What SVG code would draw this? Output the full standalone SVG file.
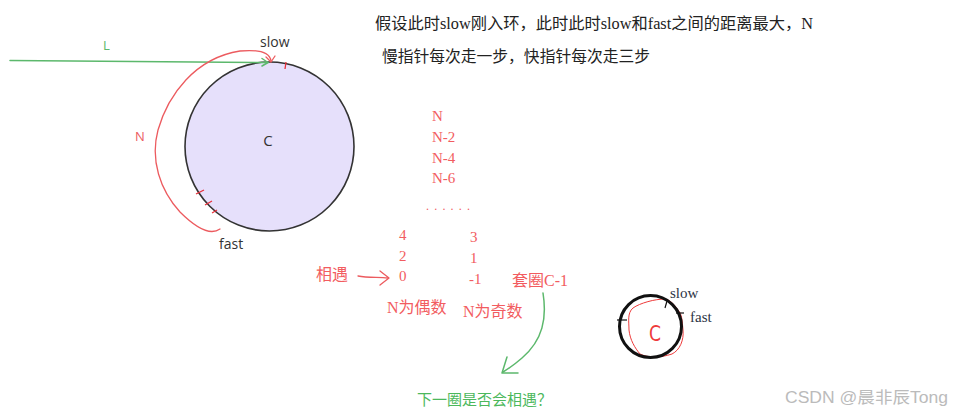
<svg xmlns="http://www.w3.org/2000/svg" width="955" height="412" viewBox="0 0 955 412">
<style>
.red{fill:#f25c60;font-family:"Liberation Serif","Noto Sans CJK SC",serif;font-size:15px}
.redcjk{fill:#f25c60;font-family:"Liberation Serif","Noto Sans CJK SC",serif;font-size:16px}
.dark{fill:#333;font-family:"Open Sans","Noto Sans",sans-serif;font-size:14px}
.top{fill:#222;font-family:"Liberation Serif","Noto Sans CJK SC",serif;font-size:16px}
.gline{fill:none;stroke:#5cb86c;stroke-width:1.5;stroke-linecap:round;stroke-linejoin:round}
.rline{fill:none;stroke:#ec5b5f;stroke-width:1.3;stroke-linecap:round;stroke-linejoin:round}
.tick{stroke:#e8303a;stroke-width:1.3}
</style>
<rect width="955" height="412" fill="#fff"/>
<g id="circle-big">
<circle cx="269.5" cy="146.5" r="84.5" fill="#e6e0fb" stroke="#333" stroke-width="1.6"/>
<text x="268" y="146" class="dark" text-anchor="middle" style="font-size:15px">C</text>
<line class="tick" x1="286" y1="62" x2="285" y2="69"/>
<line class="tick" x1="196" y1="194" x2="204" y2="190"/>
<line class="tick" x1="205" y1="205" x2="212" y2="201"/>
<line class="tick" x1="212" y1="213" x2="217" y2="210"/>
</g>
<g id="labels-big">
<text x="103" y="50" fill="#5cb86c" font-family="Open Sans,sans-serif" font-size="13">L</text>
<text x="260" y="47" class="dark">slow</text>
<text x="219" y="249" class="dark">fast</text>
<text x="135" y="141" fill="#ec5b5f" font-family="Open Sans,sans-serif" font-size="13">N</text>
</g>
<g id="connectors">
<path class="gline" d="M10 60.5 L268 62.5"/>
<path class="gline" d="M262 58.5 L268 62.5 L262 66"/>
<path class="rline" d="M220 229 C210 236 196 228 180 212 C160 190 150 160 158 130 C168 95 195 58 240 51 C262 49 270 54 271 61"/>
<path class="rline" d="M266 57 L271 62 L275 56"/>
<path class="rline" d="M358 276 C368 278 378 277 388 278"/>
<path class="rline" d="M380 271 L389 278 L380 285"/>
<path class="gline" d="M543 293 C547 318 543 340 522 358 C514 365 508 369 503 372"/>
<path class="gline" d="M507 357 L502 373 L518 373"/>
</g>
<g id="title">
<text x="375" y="29" class="top" textLength="438" lengthAdjust="spacingAndGlyphs">假设此时slow刚入环，此时此时slow和fast之间的距离最大，N</text>
<text x="382" y="62" class="top" textLength="268" lengthAdjust="spacingAndGlyphs">慢指针每次走一步，快指针每次走三步</text>
</g>
<g id="sequence">
<text x="432" y="121" class="red">N</text>
<text x="432" y="142" class="red">N-2</text>
<text x="432" y="163" class="red">N-4</text>
<text x="432" y="183" class="red">N-6</text>
<text x="426" y="210" class="red" style="font-size:12px" textLength="44" lengthAdjust="spacing">......</text>
<text x="399" y="240" class="red">4</text>
<text x="399" y="261" class="red">2</text>
<text x="399" y="281" class="red">0</text>
<text x="470" y="242" class="red">3</text>
<text x="470" y="263" class="red">1</text>
<text x="469" y="284" class="red">-1</text>
<text x="316" y="280" class="redcjk">相遇</text>
<text x="387" y="313" class="redcjk">N为偶数</text>
<text x="463" y="317" class="redcjk">N为奇数</text>
<text x="512" y="286" class="redcjk">套圈C-1</text>
<text x="417" y="405" fill="#4cb85c" font-family="Liberation Serif,Noto Sans CJK SC,serif" font-size="15">下一圈是否会相遇？</text>
</g>
<g id="circle-small">
<path fill="none" stroke="#ee3a3a" stroke-width="1" d="M665 299 C655 299 640 303 633 308 C627 313 629 322 629 330 C630 340 635 348 640 354 C648 358 660 358 672 354 C680 350 684 340 683 330 C682 320 682 314 678 310 C674 304 670 300 665 299 Z"/>
<circle cx="650.5" cy="326.5" r="31" fill="none" stroke="#111" stroke-width="3"/>
<line x1="617" y1="320" x2="627" y2="320" stroke="#111" stroke-width="1.2"/>
<line x1="667" y1="301" x2="665" y2="308" stroke="#111" stroke-width="1.2"/>
<line x1="676" y1="313" x2="684" y2="313" stroke="#111" stroke-width="1.2"/>
<text x="655" y="341" fill="#ee3a3a" font-family="DejaVu Sans Condensed,Liberation Sans,sans-serif" font-size="22" font-weight="200" text-anchor="middle" textLength="12" lengthAdjust="spacingAndGlyphs">C</text>
<text x="670" y="298" fill="#2c3445" font-family="Liberation Serif,serif" font-size="15">slow</text>
<text x="690" y="322" fill="#2c3445" font-family="Liberation Serif,serif" font-size="15">fast</text>
</g>
<text x="785" y="403" fill="#bbb" font-family="Liberation Sans,Noto Sans CJK SC,sans-serif" font-size="16" textLength="163" lengthAdjust="spacingAndGlyphs">CSDN @晨非辰Tong</text>
</svg>
